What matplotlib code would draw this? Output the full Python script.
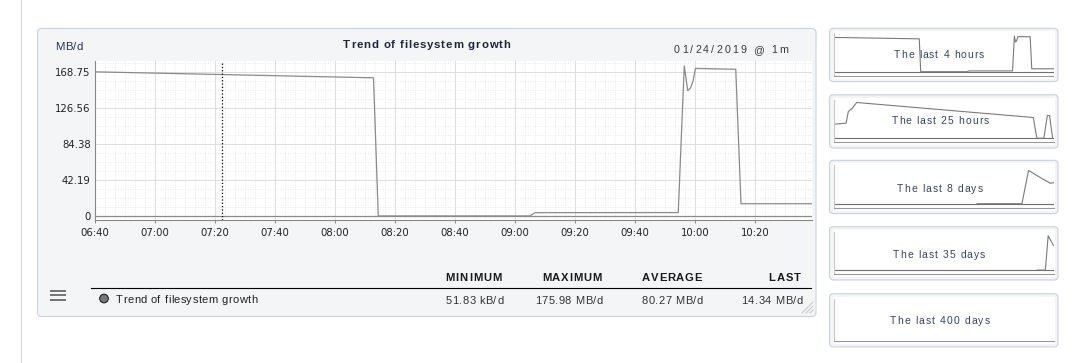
import numpy as np
import pandas as pd
from matplotlib import pyplot as plt
from matplotlib import dates as mdates
from matplotlib import font_manager as fm
from matplotlib.ft2font import FT2Font
from matplotlib.patches import FancyBboxPatch, Rectangle, Circle

W, H, DPI = 1083, 363, 100
DAY = '2019-01-24 '

# 메인 그래프 데이터 (MB/d)
main_times = ['06:40:00', '08:12:50', '08:14:25', '09:05:00', '09:06:40', '09:54:25',
              '09:56:25', '09:57:35', '09:58:30', '09:59:20', '10:00:10', '10:13:35',
              '10:15:20', '10:39:00']
main_values = [169.0, 162.0, 0.05, 0.05, 3.9, 4.0,
               175.98, 147.0, 150.0, 158.0, 173.0, 172.0,
               14.34, 14.34]
marker_time = '07:22:20'
x_start, x_end = '06:40', '10:39'
x_ticks = ['06:40', '07:00', '07:20', '07:40', '08:00', '08:20', '08:40',
           '09:00', '09:20', '09:40', '10:00', '10:20']
y_ticks = [0, 42.1875, 84.375, 126.5625, 168.75]
y_labels = ['0', '42.19', '84.38', '126.56', '168.75']

# 범례 통계
stat_headers = ['MINIMUM', 'MAXIMUM', 'AVERAGE', 'LAST']
stat_values = ['51.83 kB/d', '175.98 MB/d', '80.27 MB/d', '14.34 MB/d']
series_name = 'Trend of filesystem growth'

# 오른쪽 작은 그래프 데이터
h25_x = [0, 1.37, 1.63, 2.09, 2.58, 22.7, 23.1, 23.9, 24.3, 24.55, 24.9]
h25_v = [69, 74, 131, 148, 176, 102, 0.05, 0.05, 112, 112, 0.05]
d8_x = [5.21, 6.85, 7.09, 7.52, 7.88, 8.0]
d8_v = [0.05, 0.05, 164, 129, 101, 103]
d35_x = [32.4, 33.7, 34.15, 35.0]
d35_v = [0.05, 0.05, 169, 121]
box_labels = ['The last 4 hours', 'The last 25 hours', 'The last 8 days',
              'The last 35 days', 'The last 400 days']


def t(s):
    return pd.Timestamp(DAY + s)


fig = plt.figure(figsize=(W / DPI, H / DPI), dpi=DPI)


def px_axes(x0, y0, x1, y1, z):
    return fig.add_axes([x0 / W, 1 - y1 / H, (x1 - x0) / W, (y1 - y0) / H], zorder=z)


bg = px_axes(0, 0, W, H, 0)
bg.set_xlim(0, W)
bg.set_ylim(H, 0)
bg.axis('off')
ov = px_axes(0, 0, W, H, 10)
ov.set_xlim(0, W)
ov.set_ylim(H, 0)
ov.axis('off')
ov.patch.set_alpha(0)


# 자간이 있는 텍스트 (x0~x1 폭에 맞춤)
def spaced(x0, x1, y, s, size, weight='normal', color='#333333', family='Liberation Sans'):
    fp = fm.FontProperties(family=family, size=size, weight=weight)
    font = FT2Font(fm.findfont(fp))
    font.set_size(size, DPI)
    glyphs = [font.load_char(ord(c)) for c in s]
    adv = [g.linearHoriAdvance / 65536 for g in glyphs]
    bear = [g.horiBearingX / 64 for g in glyphs]
    ink = sum(adv[:-1]) - bear[0] + bear[-1] + glyphs[-1].width / 64
    gap = (x1 - x0 - ink) / max(len(s) - 1, 1)
    pen = x0 - bear[0]
    for c, a in zip(s, adv):
        if c != ' ':
            ov.text(pen, y, c, fontproperties=fp, color=color, va='baseline', ha='left')
        pen += a + gap


# 배경 패널
bg.plot([20.5, 20.5], [0, H], color='#d4d4e2', lw=0.8)
bg.add_patch(FancyBboxPatch((37.5, 28.5), 778.5, 288, boxstyle='round,pad=0,rounding_size=4',
                            fc='#f4f5f7', ec='#ccd0d9', lw=0.8))
box_tops = [28.3, 94.8, 160.3, 226.7, 293.7]
for top in box_tops:
    bg.add_patch(FancyBboxPatch((829.5, top), 228.5, 53.3, boxstyle='round,pad=0,rounding_size=4',
                                fc='#f3f4f6', ec='#ccd0d9', lw=0.8))
    bg.add_patch(Rectangle((832.5, top + 3), 222.5, 47.3, fc='white', ec='none'))

# 메인 그래프
ax = px_axes(95, 61, 812, 220, 5)
main_x = [t(s) for s in main_times]
ax.plot(main_x, main_values, color='#8a8a8a', lw=0.9, zorder=3)
ax.axhline(0, color='#8a8a8a', lw=0.9, zorder=2)
ax.axvline(t(marker_time), color='black', ls=':', lw=0.9, zorder=4)
ax.set_xlim(t(x_start), t(x_end))
ax.set_ylim(-4.7, 181.7)
ax.set_xticks([t(s) for s in x_ticks])
ax.set_xticklabels(x_ticks)
ax.set_xticks(pd.date_range(t(x_start), t(x_end), freq='200s'), minor=True)
ax.set_yticks(y_ticks)
ax.set_yticklabels(y_labels)
ax.set_yticks(np.arange(0, 182, y_ticks[1] / 4), minor=True)
ax.grid(which='major', color='#dddddd', lw=0.7)
ax.grid(which='minor', color='#e2e2e2', lw=0.6, ls=(0, (1, 2)))
ax.set_axisbelow(True)
ax.tick_params(which='minor', length=0)
ax.tick_params(axis='y', length=0, pad=3, labelsize=7.3, labelcolor='#222222')
ax.tick_params(axis='x', length=2.5, width=0.7, color='#888888', pad=3, labelsize=7.3,
               labelcolor='#222222')
for side in ['top', 'right']:
    ax.spines[side].set_visible(False)
for side in ['left', 'bottom']:
    ax.spines[side].set_color('#888888')
    ax.spines[side].set_linewidth(0.8)

# 제목, 단위, 날짜
spaced(56, 82.7, 50, 'MB/d', 8.2, color='#27324f')
spaced(343.3, 509.3, 47.7, 'Trend of filesystem growth', 8.2, weight='bold', color='#1f2538')
spaced(674.3, 787.7, 52.7, '01/24/2019 @ 1m', 7.7, color='#3a3a3a')

# 범례
ov.plot([91, 811], [287.5, 287.5], color='black', lw=0.8)
for y in [290.5, 295, 299.5]:
    ov.plot([50, 66], [y, y], color='#5c5c5c', lw=1.2, solid_capstyle='butt')
ov.add_patch(Circle((104, 298.5), 4.3, fc='#777777', ec='#222222', lw=0.8))
spaced(116, 256.7, 303.3, series_name, 8.0, color='#222222')
head_x = [(446, 501), (542.7, 601), (642.3, 701), (769.3, 800.7)]
val_x = [(445.7, 502.7), (536, 601.7), (642.3, 701.7), (742.3, 801.7)]
for (a, b), s in zip(head_x, stat_headers):
    spaced(a, b, 281, s, 8.1, weight='bold', color='#1a1a1a')
for (a, b), s in zip(val_x, stat_values):
    spaced(a, b, 304.3, s, 8.0, color='#333333')
for d in [0, 4, 8]:
    ov.plot([802 + d, 813], [313, 302 + d], color='#c4c4c4', lw=0.7)

# 오른쪽 작은 그래프들
spark_data = [(main_x, main_values, (t(x_start), t(x_end))),
              (h25_x, h25_v, (0, 25)),
              (d8_x, d8_v, (0, 8)),
              (d35_x, d35_v, (0, 35)),
              (None, None, (0, 400))]
label_pos = [(894, 984, 58.3), (891.7, 988.3, 124.3), (897.3, 982.3, 191.7),
             (893, 985, 257.7), (890, 989.3, 324)]
for top, (xs, vs, lim), (a, b, y), lab in zip(box_tops, spark_data, label_pos, box_labels):
    sp = px_axes(834, top + 5, 1053.5, top + 47.6, 5)
    sp.patch.set_alpha(0)
    sp.set_xlim(*lim)
    sp.set_ylim(-20.7, 189.3)
    if xs is not None:
        sp.axhline(0, color='#6e6e6e', lw=0.8)
        sp.plot(xs, vs, color='#7a7a7a', lw=0.8)
    sp.set_xticks([])
    sp.set_yticks([])
    for side in ['top', 'right']:
        sp.spines[side].set_visible(False)
    sp.spines['left'].set_color('#c4c4c4')
    sp.spines['bottom'].set_color('#9a9a9a')
    sp.spines['left'].set_linewidth(0.8)
    sp.spines['bottom'].set_linewidth(0.8)
    spaced(a, b, y, lab, 7.5, color='#3b445e')

plt.savefig('out.png', dpi=DPI)
